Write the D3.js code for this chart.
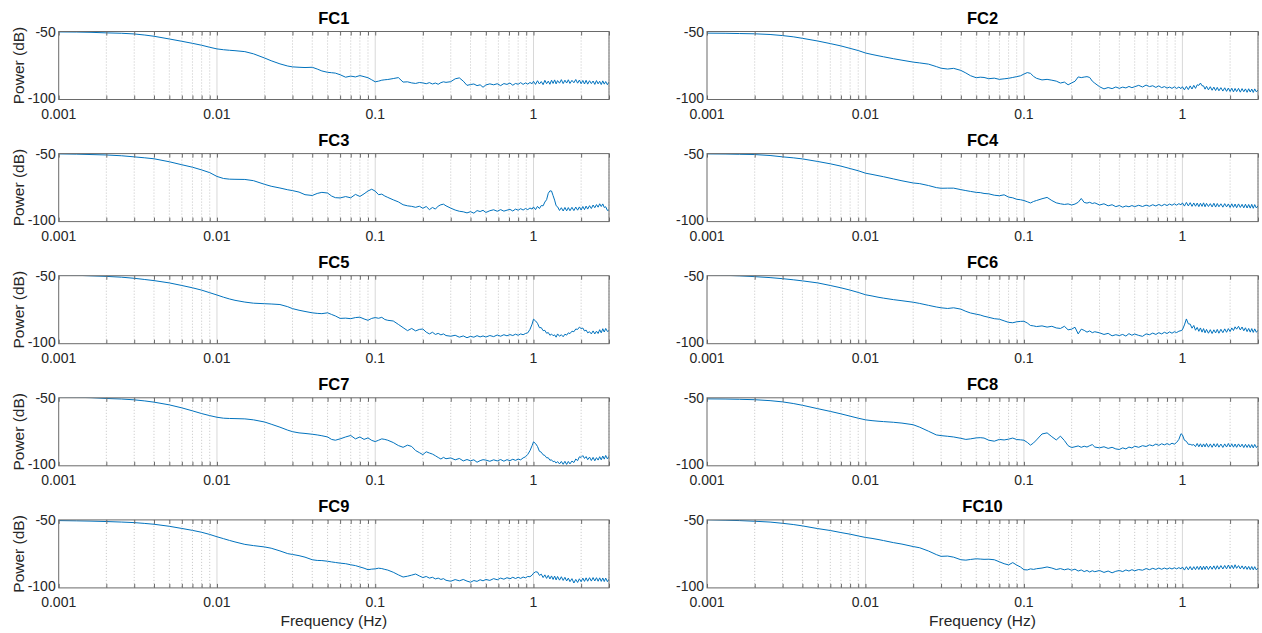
<!DOCTYPE html>
<html><head><meta charset="utf-8">
<script src="https://cdn.jsdelivr.net/npm/d3@7"></script>
<style>
body{margin:0;background:#fff;}
text{font-family:"Liberation Sans",Arial,Helvetica,sans-serif;}
</style>
</head><body>
<svg id="chart" width="1262" height="633"></svg>
<script>
// ---------- DATA ----------
const freqs = [
  0.001,0.0013,0.0016,0.002,0.0025,0.003,0.0035,0.004,0.005,0.006,0.007,0.008,0.009,
  0.01,0.011,0.012,0.013,0.015,0.017,0.02,0.022,0.025,0.028,0.03,0.033,0.036,0.04,0.043,0.046,0.05,0.053,0.056,0.06,0.065,0.07,0.075,0.08,0.085,0.09,0.095,
  0.1,0.105,0.11,0.115,0.12,0.13,0.14,0.15,0.16,0.17,0.18,0.19,0.2,0.21,0.22,0.23,0.24,0.25,0.26,0.27,0.28,0.3,0.32,0.34,0.36,0.38,0.4,0.42,0.44,0.46,0.48,0.5,0.53,0.56,0.59,0.62,0.65,0.68,0.71,0.74,0.77,0.8,0.83,0.86,0.89,0.92,0.95,0.98,
  1.0,1.03,1.06,1.09,1.12,1.15,1.18,1.21,1.24,1.27,1.3,1.33,1.36,1.39,1.42,1.46,1.5,1.54,1.58,1.62,1.66,1.7,1.75,1.8,1.85,1.9,1.95,2.0,2.05,2.1,2.15,2.2,2.26,2.32,2.38,2.44,2.5,2.56,2.62,2.68,2.74,2.8,2.86,2.93,3.0
];

const panelNames = ["FC1","FC2","FC3","FC4","FC5","FC6","FC7","FC8","FC9","FC10"];

const fc1 = [
  -50.3,-50.4,-50.6,-51,-51.3,-51.8,-52.6,-53.5,-55.5,-57.2,-58.7,-60.1,-61.6,
  -62.8,-63.4,-63.8,-64.1,-64.8,-66.4,-69.5,-71.5,-73.8,-75.4,-76,-76.3,-76.5,-76.3,-77.6,-79,-80,-80.3,-80.6,-81.8,-83.6,-82.8,-83.4,-82.4,-83.2,-84,-85.5,
  -87,-86.5,-85.8,-85.5,-85.3,-84.6,-83.9,-87.2,-87,-87.8,-88.2,-87.5,-87.8,-88.4,-87.6,-88.6,-87.9,-88.8,-87.6,-87,-87.4,-86.9,-84.8,-84.1,-86.5,-89.6,-89,-88.6,-89.8,-89.2,-91,-89.3,-88.5,-89.2,-88.4,-89.8,-88.3,-88.9,-87.9,-89.5,-88.2,-88.8,-87.6,-88.9,-87.8,-88.7,-87.5,-88.4,
  -86.6,-88.9,-86.2,-88.6,-86.8,-89.1,-85.9,-88.4,-86.5,-88.8,-85.8,-88.2,-85.6,-88.5,-86.1,-88,-85.4,-88.3,-85.8,-87.9,-85.5,-88.2,-85.9,-87.7,-85.3,-88,-85.7,-88.4,-86,-88.6,-85.9,-88.7,-86.2,-88.3,-86.4,-88.9,-86.1,-88.5,-86.6,-89,-86.3,-88.7,-86.8,-89.1,-87.2
];
const fc2 = [
  -51.2,-51.3,-51.5,-51.7,-52.2,-53,-53.9,-55,-57,-58.9,-60.6,-62.4,-64,
  -65.8,-66.9,-67.8,-68.6,-70,-71.1,-72.5,-73.1,-74,-75.8,-77,-77.6,-77.1,-78.6,-80.5,-82.5,-84,-83.6,-83.8,-84.7,-84.3,-85.2,-84.8,-84.4,-83.8,-83.2,-82.6,
  -81.3,-80.2,-80.8,-83,-84.4,-85.6,-85.2,-85.8,-86.5,-87.9,-87.2,-89.2,-87.8,-86.6,-83.4,-83.9,-83.5,-83.2,-83.8,-86.5,-88,-90.6,-92.2,-91.2,-92,-90.8,-91.8,-90.9,-91.5,-90.4,-91.3,-90.6,-89.6,-90.8,-89.4,-90.5,-89.9,-91.1,-90,-91.3,-90.5,-91.6,-90.9,-91.8,-90.7,-91.9,-90.8,-92,
  -90.6,-92.9,-90.4,-92.7,-90,-92.3,-89.6,-91.8,-89.2,-89.6,-87.9,-89.9,-90,-92.4,-90.3,-92.9,-90.6,-93.2,-90.9,-93.4,-91.1,-93.6,-91.3,-93.8,-91.4,-94,-91.6,-94.1,-91.7,-94.4,-91.9,-94.2,-91.8,-94.6,-92,-94.3,-92.2,-94.7,-92.1,-94.5,-92.3,-94.8,-92.2,-94.4,-93
];
const fc3 = [
  -50.2,-50.4,-50.7,-51,-51.6,-52.4,-53.1,-53.8,-56,-58.2,-60,-62,-64,
  -66.8,-68.3,-68.8,-68.9,-69,-69.9,-72.6,-74,-75.3,-76.6,-77.2,-78.3,-80.2,-80.8,-79.3,-78.5,-79,-81.2,-82.4,-82.6,-81.6,-82.5,-80,-81.5,-79.6,-77.5,-76.2,
  -77.6,-80.2,-79.8,-81.2,-82.2,-84,-85.5,-87.6,-88.4,-88.8,-89.5,-88.7,-90.2,-88.9,-91.2,-89.6,-90.8,-88.6,-87.6,-87.2,-88.4,-90.1,-91.5,-92.4,-92.8,-93.6,-92.7,-93.8,-91.9,-92.6,-91.7,-93.3,-92,-91.3,-92.4,-91.2,-92.3,-91.6,-91,-92.2,-90.8,-91.6,-90.5,-91.5,-90.4,-91.2,-90,-90.8,
  -89.2,-91.2,-88.8,-90.4,-88.2,-88.4,-85.6,-83.9,-79.2,-77.4,-77.5,-80.9,-84.2,-88.3,-89.1,-91.8,-89.8,-92.2,-89.6,-92.1,-89.7,-92,-89.5,-91.9,-89.3,-91.6,-89.2,-91.5,-88.9,-91.2,-88.6,-90.8,-88.3,-90.4,-87.8,-89.8,-87.5,-89.4,-86.9,-88.9,-87,-89.6,-89.1,-91.8,-91.4
];
const fc4 = [
  -50.2,-50.3,-50.5,-50.7,-51.4,-52.4,-53.1,-53.9,-55.8,-57.5,-59.2,-61,-62.6,
  -64.4,-65.3,-66.2,-67,-68.6,-70,-71.6,-72.1,-73.5,-75,-75.5,-75.4,-75.4,-76.5,-77.2,-77.8,-78.5,-78.7,-79.3,-79.6,-80.6,-81,-80.3,-82,-82.5,-83.6,-83.9,
  -84.5,-85.4,-86.3,-85.2,-84.5,-83.2,-82.2,-84.5,-86.2,-86.9,-87.4,-87,-87.8,-87.1,-85.8,-83,-85.9,-86.4,-85.8,-86.7,-86.2,-87.8,-86.9,-88.4,-87.6,-89,-88.2,-89.4,-88.5,-89.1,-88.2,-89,-88,-88.9,-87.9,-88.7,-87.6,-88.5,-87.4,-88.4,-87.3,-88.2,-87.1,-88,-86.9,-87.9,-86.8,-87.7,
  -86.2,-88.6,-85.9,-88.5,-86.1,-88.8,-86.3,-88.7,-86.4,-89,-86.5,-88.8,-86.2,-89.1,-86.6,-88.9,-86.8,-89.2,-86.5,-89.3,-86.7,-89.1,-86.9,-89.4,-86.8,-89.2,-87,-89.6,-86.9,-89.5,-87.1,-89.8,-87,-89.6,-87.3,-89.9,-87.2,-90,-87.4,-90.1,-87.3,-90.2,-87.5,-90,-88.4
];
const fc5 = [
  -49.5,-49.7,-50.1,-50.5,-51.1,-51.9,-52.8,-53.6,-55.3,-57.2,-58.9,-60.6,-62.5,
  -64.2,-65.8,-67.1,-68.1,-69.4,-70.2,-70.6,-70.8,-71.2,-72.8,-74.2,-75.4,-76.3,-77.3,-77.7,-77.9,-77.3,-78.5,-79.6,-81.4,-81.2,-81.6,-80.8,-80.5,-81.8,-82.8,-81.4,
  -80.8,-81.3,-80.6,-82.2,-82.8,-83.3,-85.8,-88.2,-90.4,-88.8,-90.6,-89.5,-89.2,-91.5,-92.8,-91.6,-93.2,-92.4,-93.5,-92.8,-94,-94.5,-93.8,-95.2,-94.3,-95.6,-94.6,-95.2,-94.1,-95,-94.3,-95.1,-94,-94.8,-93.6,-94.5,-93.4,-94.2,-93.3,-94,-93,-93.8,-92.8,-93.4,-92.5,-92,-89.5,-85.6,
  -82,-83.2,-85,-88.2,-88.2,-90.4,-90.2,-92.3,-91.8,-93.8,-92.9,-94.1,-93.5,-95.2,-92.8,-94.5,-93.4,-94.9,-93,-93.7,-92,-92.6,-90.8,-91.2,-89.2,-89.5,-87.8,-88.9,-88.5,-90.6,-90,-92,-91.2,-92.8,-90.6,-92.8,-90.8,-92.5,-89.7,-92,-89,-91.4,-88.8,-91,-90.4
];
const fc6 = [
  -49.4,-49.7,-50.1,-50.7,-51.4,-52.2,-53,-53.8,-55.3,-57.2,-58.9,-60.6,-62.3,
  -64,-64.9,-65.8,-66.5,-67.6,-68.4,-69.5,-70.4,-71.8,-73,-73.6,-74.1,-73.6,-74.6,-76.2,-77.4,-78.3,-78.9,-79.8,-80.6,-81.6,-82,-83.2,-84.3,-84.6,-83.9,-83.6,
  -83.5,-84.8,-86.6,-86.9,-87.4,-86.9,-87.8,-87.2,-88.4,-88.8,-87.2,-89.8,-89.3,-87.9,-92.8,-89.3,-90.2,-91.5,-90.6,-91.9,-91.2,-92,-93.2,-92.4,-94.2,-93.4,-94,-93.2,-94.4,-92.6,-93.8,-92.9,-93.9,-94.6,-92.8,-93.4,-92.2,-93.2,-91.9,-92.8,-91.6,-92.5,-91.3,-92.3,-91.2,-91.8,-90.8,-90.4,
  -89.8,-86.2,-81.8,-85.4,-85.6,-88.6,-86.6,-90.1,-88,-90.9,-88.4,-91.5,-88.9,-92,-89.5,-92.3,-89.7,-92.5,-89.8,-92.1,-89.5,-92.3,-89.4,-91.9,-89.1,-91.6,-88.9,-91.1,-88.4,-90.3,-87.6,-89.3,-87.2,-89.9,-87.7,-90.5,-88.3,-91.1,-88.8,-91.5,-88.9,-91.7,-89.1,-91.6,-90.1
];
const fc7 = [
  -49.4,-49.6,-49.9,-50.5,-50.9,-51.5,-52.3,-53.2,-55.2,-57.4,-59.6,-61.6,-63.1,
  -64.3,-65,-65.2,-65.3,-65.5,-66.2,-67.8,-69.4,-71.6,-73.8,-74.9,-75.8,-76.2,-76.8,-77.3,-77.9,-78.8,-80.6,-81.2,-80.2,-78.8,-77.7,-80.2,-78.8,-80.6,-79.5,-81.3,
  -82.2,-81.2,-80.2,-80.6,-81.2,-82.9,-85.1,-86.4,-84.8,-85.8,-88.8,-90.3,-91.8,-89.7,-90.6,-91.4,-92.6,-93.9,-95,-93.8,-94.8,-94.2,-95.6,-94.6,-96.4,-95.4,-96.3,-95.6,-97.4,-96.2,-95.5,-95.8,-96.7,-95.6,-96.4,-95.4,-96.6,-95.5,-96.2,-95.2,-96,-95.1,-95.6,-94.2,-93.4,-91.6,-88.9,-85.2,
  -82.4,-83.6,-85.8,-89.3,-90,-91.9,-92.4,-94.1,-94.1,-95.9,-95.6,-97,-96.6,-98,-96.9,-98.6,-96.8,-98.9,-96.7,-99,-96.8,-98.6,-96.5,-97.6,-95,-96.2,-93.4,-93.8,-92.5,-94.6,-93.2,-95.5,-93.6,-96.1,-93.8,-96.3,-94,-95.8,-93.3,-95.6,-92.8,-95.1,-92.4,-94.9,-93
];
const fc8 = [
  -50.8,-50.9,-51.1,-51.4,-52.1,-53,-54.2,-55.5,-58,-60,-61.8,-63.5,-65,
  -66.2,-66.8,-67.2,-67.5,-68,-68.6,-69.8,-71.6,-74.6,-77.3,-77.8,-78.3,-78.8,-79.8,-80.6,-80.2,-79.5,-79.3,-79.6,-81.2,-81.9,-80.6,-81,-80.4,-79.6,-80.7,-80.9,
  -81.2,-82.8,-84.8,-83.2,-81,-76.6,-75.8,-78.6,-81,-78.2,-81.4,-85.2,-86.6,-86,-85.4,-86.4,-85.6,-86.2,-85.2,-84.4,-86.2,-86.8,-86,-87.2,-86.4,-87.6,-88,-86.8,-87.6,-86.2,-86.9,-85.6,-86.4,-85.2,-85.8,-84.6,-85.3,-84,-85,-83.8,-84.6,-83.7,-84.5,-83.4,-84.1,-82.8,-80.6,-76.4,
  -77.2,-81.2,-82,-84.2,-84.2,-84.8,-84.4,-85.9,-83.6,-86,-83.8,-86.2,-83.9,-86.1,-83.6,-86.3,-83.9,-86.4,-83.8,-86.1,-83.7,-86.3,-84,-86.5,-83.9,-86.2,-83.6,-86.1,-83.8,-86.3,-84,-86.4,-83.9,-86.2,-84.1,-86.6,-84.2,-86.5,-84.3,-86.7,-84.4,-86.8,-84.3,-86.6,-85.2
];
const fc9 = [
  -50.5,-50.7,-50.9,-51.2,-51.6,-52,-52.6,-53.2,-54.7,-56.3,-57.7,-59.1,-60.7,
  -62.4,-63.8,-65.1,-66.2,-68,-68.9,-69.9,-70.8,-72.8,-74.8,-75.4,-76.3,-77.4,-79.3,-79.8,-79.9,-80.4,-80.9,-81.3,-81.8,-82.2,-83,-83.6,-84.6,-85.5,-86.6,-86.2,
  -86,-85.5,-85.8,-86.4,-86.9,-88.5,-90.4,-92,-91.4,-90.6,-89.8,-91.2,-92.4,-91.6,-92.8,-92.2,-93.4,-92.8,-93.8,-93.2,-94.4,-95.1,-93.9,-94.8,-93.8,-95,-95.8,-94.6,-95.2,-94,-94.8,-93.8,-94.5,-93.2,-94,-92.8,-93.6,-92.5,-93.3,-92.2,-93.1,-92.2,-93,-92,-92.6,-91.6,-91.8,-90.6,
  -89.2,-88.2,-88.3,-90.8,-89.9,-92.4,-90.4,-93,-90.8,-93.4,-91.2,-93.8,-91.3,-94.1,-91.6,-94.3,-91.8,-94.5,-92.2,-94.9,-92.8,-95.4,-93.2,-96.4,-93.8,-96,-93.3,-95.5,-92.8,-95.2,-92.6,-95.1,-92.5,-95,-92.4,-94.9,-92.5,-95.1,-92.6,-95.2,-92.7,-95.3,-92.8,-95.4,-93.6
];
const fc10 = [
  -49.9,-50.2,-50.5,-51,-51.6,-52.5,-53.4,-54.4,-56.4,-57.8,-59.3,-60.5,-61.8,
  -62.9,-63.6,-64.4,-65.2,-66.7,-67.8,-69.6,-70.5,-72.9,-75.5,-76.8,-76.6,-77.4,-79.3,-79.6,-79.1,-78.6,-78.8,-79,-78.9,-79.3,-80.8,-82.2,-83.1,-81.4,-83.2,-84.6,
  -86.6,-86.8,-86,-86.4,-85.9,-85.4,-84.6,-85.4,-86.5,-85.8,-86.7,-86,-87,-86.2,-87.6,-86.8,-88,-87.2,-88.3,-87.4,-88.1,-87.2,-88.6,-87.6,-88.9,-87.8,-87.2,-88,-86.8,-87.6,-86.6,-87.4,-86.5,-87,-85.8,-86.6,-85.6,-86.4,-85.4,-86.3,-85.4,-86.2,-85.3,-86.1,-85.2,-86,-85.1,-86,
  -84.6,-86.9,-84.4,-86.7,-84.3,-86.8,-84.4,-86.6,-84.2,-86.5,-84,-86.7,-84.1,-86.4,-83.9,-86.5,-84,-86.3,-83.8,-86.4,-83.7,-86.2,-83.6,-86.1,-83.5,-86,-83.2,-85.8,-83.4,-85.9,-83,-85.6,-83.6,-86,-83.8,-86.2,-84,-86.4,-84.2,-86.6,-84.3,-86.7,-84.4,-86.8,-85.4
];

const xTickValues = [0.001, 0.01, 0.1, 1];
const xTickLabels = ["0.001", "0.01", "0.1", "1"];
const yTickValues = [-50, -100];
const yTickLabels = ["-50", "-100"];
const xDomain = [0.001, 3];
const yDomain = [-100, -50];

// ---------- LAYOUT ----------
const series = [fc1, fc2, fc3, fc4, fc5, fc6, fc7, fc8, fc9, fc10];
const colLeft = [58.7, 707];
const colWidth = [550.3, 551];
const rowTop0 = 31.5, rowStep = 122.1, plotH = 68;
const axisColor = "#6a6a6a";
const textColor = "#262626";
const lineColor = "#0072BD";

const svg = d3.select("#chart");
const defs = svg.append("defs");

series.forEach((vals, i) => {
  const col = i % 2, row = Math.floor(i / 2);
  const x0 = colLeft[col], w = colWidth[col];
  const y0 = rowTop0 + row * rowStep;
  const x = d3.scaleLog().domain(xDomain).range([x0, x0 + w]);
  const y = d3.scaleLinear().domain(yDomain).range([y0 + plotH, y0]);
  const g = svg.append("g");

  // grid
  const allTicks = x.ticks();
  const isMajor = v => Math.abs(Math.log10(v) - Math.round(Math.log10(v))) < 1e-9;
  g.append("g").selectAll("line").data(allTicks.filter(v => !isMajor(v))).join("line")
    .attr("x1", d => x(d)).attr("x2", d => x(d))
    .attr("y1", y0).attr("y2", y0 + plotH)
    .attr("stroke", "#c4c4c4").attr("stroke-width", 1).attr("stroke-dasharray", "1,2");
  g.append("g").selectAll("line").data(xTickValues.filter(v => v > xDomain[0])).join("line")
    .attr("x1", d => x(d)).attr("x2", d => x(d))
    .attr("y1", y0).attr("y2", y0 + plotH)
    .attr("stroke", "#d8d8d8").attr("stroke-width", 1);

  // clip + line
  const cid = "clip" + i;
  defs.append("clipPath").attr("id", cid).append("rect")
    .attr("x", x0).attr("y", y0).attr("width", w).attr("height", plotH);
  const pts = d3.zip(freqs, vals);
  g.append("path").datum(pts)
    .attr("clip-path", `url(#${cid})`)
    .attr("fill", "none").attr("stroke", lineColor).attr("stroke-width", 1)
    .attr("stroke-linejoin", "round")
    .attr("d", d3.line().x(d => x(d[0])).y(d => y(d[1])));

  // inward ticks (top & bottom)
  const tickSize = 4;
  const xAxisB = d3.axisTop(x).tickValues(allTicks).tickSize(tickSize).tickFormat("");
  g.append("g").attr("transform", `translate(0,${y0 + plotH})`).call(xAxisB)
    .call(s => s.select(".domain").remove())
    .call(s => s.selectAll("line").attr("stroke", axisColor));
  const xAxisT = d3.axisBottom(x).tickValues(allTicks).tickSize(tickSize).tickFormat("");
  g.append("g").attr("transform", `translate(0,${y0})`).call(xAxisT)
    .call(s => s.select(".domain").remove())
    .call(s => s.selectAll("line").attr("stroke", axisColor));

  // box
  g.append("rect").attr("x", x0).attr("y", y0).attr("width", w).attr("height", plotH)
    .attr("fill", "none").attr("stroke", axisColor).attr("stroke-width", 1);

  // x tick labels
  g.append("g").selectAll("text").data(xTickValues).join("text")
    .attr("x", d => x(d)).attr("y", y0 + plotH + 19)
    .attr("text-anchor", "middle").attr("font-size", 14).attr("fill", textColor)
    .text((d, k) => xTickLabels[k]);

  // y tick labels
  g.append("g").selectAll("text").data(yTickValues).join("text")
    .attr("x", x0 - 3).attr("y", d => y(d) - (d === yDomain[0] ? 1.5 : 0)).attr("dy", "0.36em")
    .attr("text-anchor", "end").attr("font-size", 14).attr("fill", textColor)
    .text((d, k) => yTickLabels[k]);

  // title
  g.append("text").attr("x", x0 + w / 2).attr("y", y0 - 7.5)
    .attr("text-anchor", "middle").attr("font-size", 16.5).attr("font-weight", "bold")
    .attr("fill", "#000").text(panelNames[i]);

  if (col === 0) {
    g.append("text")
      .attr("transform", `translate(18,${y0 + plotH / 2}) rotate(-90)`)
      .attr("dy", "0.36em").attr("text-anchor", "middle")
      .attr("font-size", 15.5).attr("fill", textColor).text("Power (dB)");
  }
  if (row === 4) {
    g.append("text").attr("x", x0 + w / 2).attr("y", y0 + plotH + 38)
      .attr("text-anchor", "middle").attr("font-size", 15.5).attr("fill", textColor)
      .text("Frequency (Hz)");
  }
});
</script>
</body></html>
